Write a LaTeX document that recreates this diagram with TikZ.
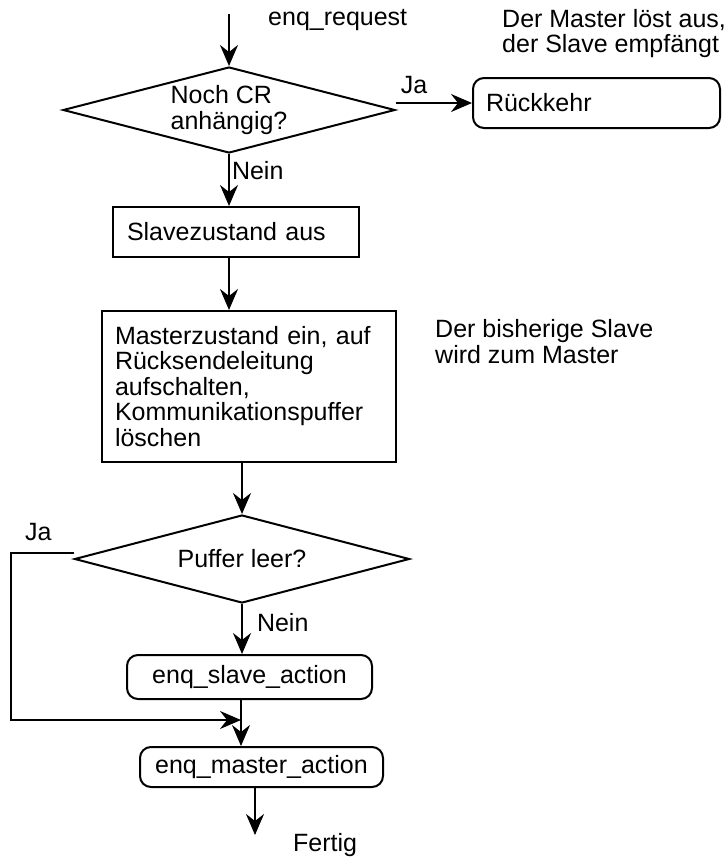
\documentclass[tikz,border=0pt]{standalone}
\usepackage{fontspec}
\setmainfont{Liberation Sans}
\usepackage{tikz}
\usetikzlibrary{arrows.meta, positioning, shapes.geometric}
\definecolor{Ink}{HTML}{000000}

\begin{document}
\begin{tikzpicture}[
  x=1pt, y=-1pt,
  font=\fontsize{25}{25.5}\selectfont,
  box/.style={draw=Ink, line width=2pt, inner xsep=13pt, inner ysep=0pt, align=left},
  action/.style={box, rounded corners=11pt, align=center},
  decision/.style={diamond, draw=Ink, line width=2pt, inner sep=0pt, align=left},
  note/.style={inner sep=0pt, align=left},
  arrow/.style={-{Stealth[length=21pt, width=18pt, inset=7pt]}, line width=2pt, draw=Ink}
]
\useasboundingbox (0,0) rectangle (728,857);

\coordinate (start) at (229,14);
\node[note, anchor=base west] (request) at (268,25) {enq\_request};
\node[note, anchor=north west] (trigger) at (502,9) {Der Master löst aus,\\der Slave empfängt};

\node[decision, aspect=3.86, minimum width=332pt, minimum height=86pt] (pending) at (229,110) {Noch CR\\anhängig?};
\node[action, align=left, minimum width=247pt, minimum height=50pt, text width=221pt] (back) at (596.5,103) {Rückkehr};

\node[box, minimum width=246pt, minimum height=50pt, text width=218pt] (slaveoff) at (236,232) {Slavezustand aus};
\node[box, minimum width=292pt, minimum height=151pt, text width=268pt] (masteron) at (249,386.5)
  {Masterzustand ein, auf\\Rücksendeleitung\\aufschalten,\\Kommunikationspuffer\\löschen\\[-8pt]};
\node[note, anchor=north west] (newmaster) at (435,319.5) {Der bisherige Slave\\wird zum Master};

\node[decision, aspect=3.8, minimum width=335pt, minimum height=88pt] (empty) at (242,559) {Puffer leer?};
\node[action, minimum width=245pt, minimum height=44pt] (slaveact) at (249.5,677) {enq\_slave\_action};
\node[action, minimum width=243pt, minimum height=40pt] (masteract) at (261.5,767) {enq\_master\_action};

\coordinate (jaleft) at (11,553);
\coordinate (merge) at (241,720);
\coordinate (finish) at (255,835);
\node[note, anchor=base west] (done) at (293,851) {Fertig};

% main path
\draw[arrow] (start) -- (pending.north);
\draw[arrow] (pending.east |- back.west) -- (back.west)
  node[note, pos=0.05, anchor=base west, yshift=10pt] (yes1) {Ja};
\draw[arrow] (pending.south) -- (pending.south |- slaveoff.north)
  node[note, pos=0.05, anchor=north west, xshift=2pt, yshift=-4pt] (no1) {Nein};
\draw[arrow] (slaveoff.south -| pending.south) -- (masteron.north -| pending.south);
\draw[arrow] (masteron.south -| empty.north) -- (empty.north);
\draw[arrow] (empty.south) -- (empty.south |- slaveact.north)
  node[note, pos=0.1, anchor=north west, xshift=14pt, yshift=-3pt] (no2) {Nein};
\draw[arrow] (slaveact.south -| merge) -- (masteract.north -| merge);
\draw[arrow] (masteract.south -| finish) -- (finish);

% Ja branch of the buffer test
\draw[arrow, line width=1.3pt] (empty.west |- jaleft) -- (jaleft) |- (merge);
\node[note, anchor=base west] (yes2) at (25,540) {Ja};
\end{tikzpicture}
\end{document}
